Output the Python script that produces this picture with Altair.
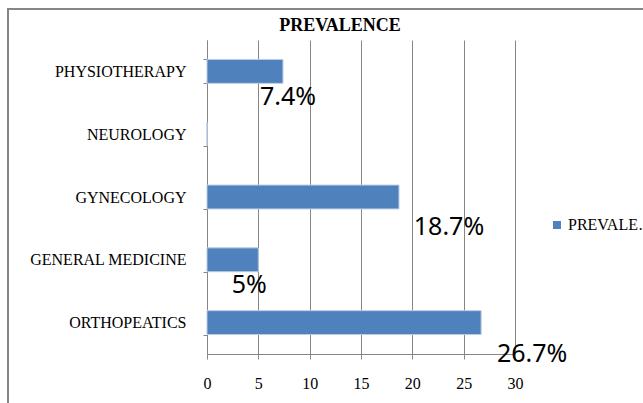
import altair as alt
import pandas as pd

# Prevalence by department (percent)
departments = ["PHYSIOTHERAPY", "NEUROLOGY", "GYNECOLOGY", "GENERAL MEDICINE", "ORTHOPEATICS"]
prevalence = [7.4, 0, 18.7, 5, 26.7]
value_labels = ["7.4%", "", "18.7%", "5%", "26.7%"]
series_name = "PREVALENCE"
x_ticks = [0, 5, 10, 15, 20, 25, 30]

df = pd.DataFrame({
    "department": departments,
    "prevalence": prevalence,
    "label": value_labels,
    "series": [series_name] * len(departments),
})

BLUE = "#4F81BD"
GREY = "#868686"
SERIF = "Liberation Serif"

y_enc = alt.Y(
    "department:N",
    sort=departments,
    title=None,
    scale=alt.Scale(paddingInner=0.62, paddingOuter=0.31),
    axis=alt.Axis(
        labelFont=SERIF, labelFontSize=16, labelColor="black",
        labelPadding=17, tickSize=4, tickColor=GREY, domainColor=GREY,
        tickBand="extent", grid=False, labelLimit=250,
    ),
)
x_enc = alt.X(
    "prevalence:Q",
    title=None,
    scale=alt.Scale(domain=[0, 30], nice=False),
    axis=alt.Axis(
        values=x_ticks, labelFont=SERIF, labelFontSize=16, labelColor="black",
        labelPadding=16, tickSize=5, tickColor=GREY, domainColor=GREY,
        grid=True, gridColor=GREY, gridWidth=1, labelFlush=False,
    ),
)

bars = alt.Chart(df).mark_bar(stroke="#B9CDE5", strokeWidth=1).encode(
    y=y_enc,
    x=x_enc,
    color=alt.Color(
        "series:N",
        scale=alt.Scale(range=[BLUE]),
        legend=alt.Legend(
            title=None, orient="none", legendX=342, legendY=177,
            symbolType="square", symbolSize=64, symbolStrokeWidth=0,
            labelFont=SERIF, labelFontSize=16, labelColor="black",
            labelLimit=90, labelOffset=3,
        ),
    ),
)

# Value labels sit below and to the right of each bar's end
label_offsets = {
    "PHYSIOTHERAPY": (5, 26),
    "GYNECOLOGY": (50, 30),
    "GENERAL MEDICINE": (-9, 25),
    "ORTHOPEATICS": (51, 31),
}
label_layers = []
for dept, (ddx, ddy) in label_offsets.items():
    label_layers.append(
        alt.Chart(df).transform_filter(alt.datum.department == dept)
        .mark_text(font="Noto Sans", fontSize=25, color="black",
                   align="center", baseline="middle", dx=ddx, dy=ddy)
        .encode(
            y=alt.Y("department:N", sort=departments),
            x=alt.X("prevalence:Q"),
            text="label:N",
        )
    )

# Outer frame (top and left edges), placed in pixels
frame_df = pd.DataFrame({"k": [0]})
frame_top = alt.Chart(frame_df).mark_rule(color=GREY, strokeWidth=2).encode(
    x=alt.value(-200), x2=alt.value(440), y=alt.value(-31)
)
frame_left = alt.Chart(frame_df).mark_rule(color=GREY, strokeWidth=2).encode(
    x=alt.value(-199), y=alt.value(-32), y2=alt.value(370)
)

# Chart heading
heading_df = pd.DataFrame({"heading": ["PREVALENCE"]})
heading = alt.Chart(heading_df).mark_text(
    font=SERIF, fontSize=18, fontWeight="bold", color="black",
    align="center", baseline="alphabetic",
).encode(x=alt.value(133), y=alt.value(-9), text="heading:N")

chart = alt.layer(frame_top, frame_left, bars, *label_layers, heading).properties(
    width=308,
    height=314,
    autosize=alt.AutoSizeParams(type="none"),
    padding={"left": 207, "top": 40, "right": 128, "bottom": 49},
).configure_view(stroke=None)

chart.save("out.html", embed_options={"renderer": "svg", "actions": False})
